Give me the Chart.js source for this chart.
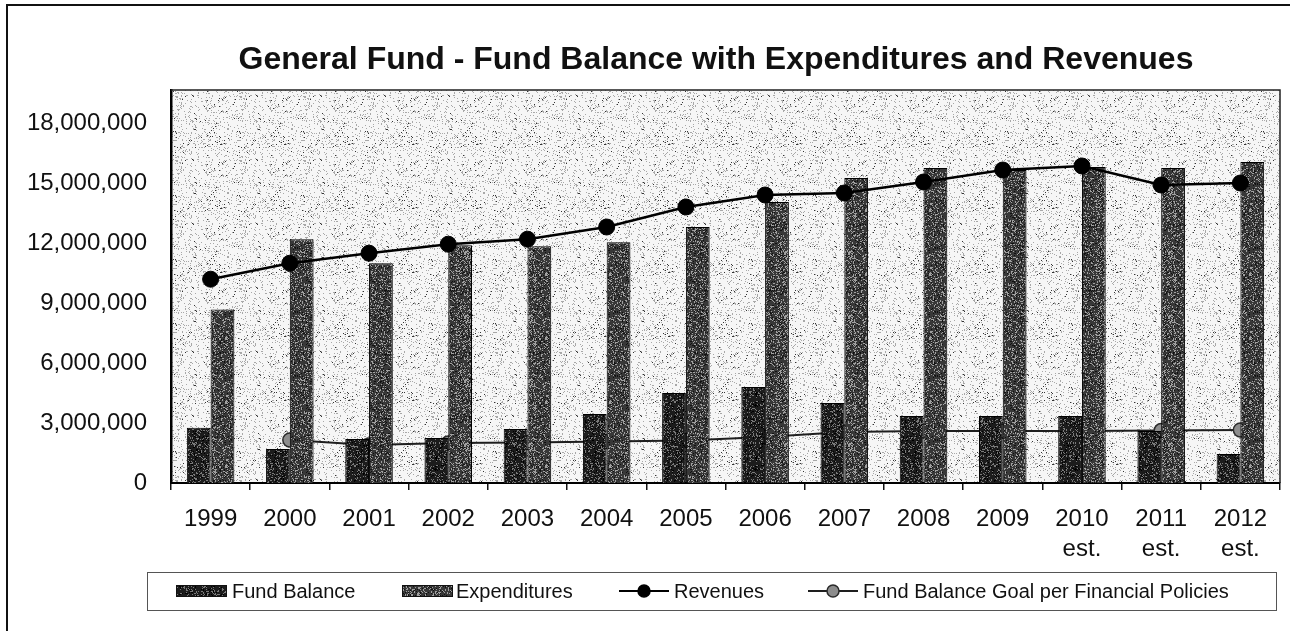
<!DOCTYPE html>
<html>
<head>
<meta charset="utf-8">
<title>General Fund - Fund Balance with Expenditures and Revenues</title>
<script src="https://cdn.jsdelivr.net/npm/chart.js@4.4.1/dist/chart.umd.min.js"></script>
<style>
  html, body { margin: 0; padding: 0; background: #fff; }
  canvas { display: block; }
</style>
</head>
<body>
<canvas id="fundChart" width="1290" height="631"></canvas>
<script>
const chartTitle = 'General Fund - Fund Balance with Expenditures and Revenues';

const categories = ['1999', '2000', '2001', '2002', '2003', '2004', '2005',
  '2006', '2007', '2008', '2009', '2010', '2011', '2012'];
const estimateYears = ['2010', '2011', '2012'];

const fundBalance = [2760000, 1700000, 2200000, 2250000, 2700000, 3450000, 4500000,
  4800000, 4000000, 3350000, 3350000, 3350000, 2600000, 1450000];
const expenditures = [8680000, 12190000, 10990000, 11890000, 11840000, 12040000, 12800000,
  14050000, 15250000, 15750000, 15650000, 15800000, 15750000, 16050000];
const revenues = [10190000, 10990000, 11490000, 11940000, 12190000, 12800000, 13800000,
  14400000, 14500000, 15050000, 15650000, 15850000, 14900000, 15000000];
const fundBalanceGoal = [null, 2150000, 1900000, 2000000, 2030000, 2080000, 2120000,
  2300000, 2550000, 2600000, 2600000, 2600000, 2620000, 2650000];

const yTickValues = [0, 3000000, 6000000, 9000000, 12000000, 15000000, 18000000];
const yAxisMax = 19650000;

const FONT = '"Liberation Sans", Arial, Helvetica, sans-serif';

// cheap deterministic hash so the speckle texture is the same on every load
function hash(x, y, seed) {
  let h = Math.imul(x, 374761393) + Math.imul(y, 668265263) + Math.imul(seed, 982451653);
  h = Math.imul(h ^ (h >>> 13), 1274126177);
  h = h ^ (h >>> 16);
  return (h >>> 0) / 4294967296;
}

function speckledPattern(base, specks, seed) {
  const size = 64;
  const c = document.createElement('canvas');
  c.width = size;
  c.height = size;
  const g = c.getContext('2d');
  g.fillStyle = base;
  g.fillRect(0, 0, size, size);
  specks.forEach((s, k) => {
    g.fillStyle = s.color;
    for (let y = 0; y < size; y++) {
      for (let x = 0; x < size; x++) {
        if (hash(x, y, seed + k * 17) < s.density) g.fillRect(x, y, 1, 1);
      }
    }
  });
  return g.createPattern(c, 'repeat');
}

const plotFill = speckledPattern('#f6f6f6', [
  { color: '#a8a8a8', density: 0.12 },
  { color: '#333333', density: 0.015 },
], 3);
const fundFill = speckledPattern('#1c1c1c', [
  { color: '#7a7a7a', density: 0.2 },
  { color: '#000000', density: 0.10 },
], 11);
const expendFill = speckledPattern('#383838', [
  { color: '#a0a0a0', density: 0.24 },
  { color: '#111111', density: 0.12 },
], 29);

const xLabels = categories.map(y => estimateYears.includes(y) ? [y, 'est.'] : y);

// plot background, outer frame, title, plot border and legend
const decorations = {
  id: 'decorations',
  beforeDraw(chart) {
    const { ctx, chartArea: a } = chart;
    ctx.save();
    ctx.fillStyle = plotFill;
    ctx.fillRect(a.left, a.top, a.right - a.left, a.bottom - a.top);

    ctx.strokeStyle = '#111';
    ctx.lineWidth = 2;
    ctx.beginPath();
    ctx.moveTo(7, 631);
    ctx.lineTo(7, 5);
    ctx.lineTo(1290, 5);
    ctx.stroke();
    ctx.restore();
  },
  afterDraw(chart) {
    const { ctx, chartArea: a } = chart;
    ctx.save();

    ctx.strokeStyle = '#222';
    ctx.lineWidth = 1.5;
    ctx.beginPath();
    ctx.moveTo(a.left, a.top);
    ctx.lineTo(a.right, a.top);
    ctx.lineTo(a.right, a.bottom);
    ctx.stroke();

    ctx.fillStyle = '#111';
    ctx.font = 'bold 32px ' + FONT;
    ctx.textAlign = 'center';
    ctx.textBaseline = 'middle';
    ctx.fillText(chartTitle, 716, 60);

    // legend box
    ctx.strokeStyle = '#555';
    ctx.lineWidth = 1;
    ctx.strokeRect(147.5, 572.5, 1129, 38);

    const ds = chart.data.datasets;
    const cy = 591;
    ctx.font = '20px ' + FONT;
    ctx.textAlign = 'left';

    const swatch = (x, d) => {
      ctx.fillStyle = d.backgroundColor;
      ctx.fillRect(x, cy - 6, 51, 12);
      ctx.strokeStyle = '#111';
      ctx.lineWidth = 1;
      ctx.strokeRect(x + 0.5, cy - 5.5, 50, 11);
    };
    const lineMark = (x, d) => {
      ctx.strokeStyle = d.borderColor;
      ctx.lineWidth = 2;
      ctx.beginPath();
      ctx.moveTo(x, cy);
      ctx.lineTo(x + 50, cy);
      ctx.stroke();
      ctx.beginPath();
      ctx.arc(x + 25, cy, 6, 0, Math.PI * 2);
      ctx.fillStyle = d.pointBackgroundColor;
      ctx.fill();
      ctx.strokeStyle = d.pointBorderColor;
      ctx.lineWidth = 1.5;
      ctx.stroke();
    };
    const label = (text, x) => {
      ctx.fillStyle = '#111';
      ctx.fillText(text, x, cy + 1);
    };

    swatch(176, ds[1]);
    label(ds[1].label, 232);
    swatch(402, ds[2]);
    label(ds[2].label, 456);
    lineMark(619, ds[0]);
    label(ds[0].label, 674);
    lineMark(808, ds[3]);
    label(ds[3].label, 863);

    ctx.restore();
  }
};

const ctx = document.getElementById('fundChart').getContext('2d');
new Chart(ctx, {
  type: 'bar',
  data: {
    labels: xLabels,
    datasets: [
      {
        type: 'line',
        label: 'Revenues',
        data: revenues,
        order: 0,
        borderColor: '#000',
        borderWidth: 2.5,
        pointRadius: 8,
        pointBackgroundColor: '#000',
        pointBorderColor: '#000',
        pointBorderWidth: 1,
        tension: 0,
      },
      {
        label: 'Fund Balance',
        data: fundBalance,
        order: 1,
        backgroundColor: fundFill,
        borderColor: '#000',
        borderWidth: 1,
        categoryPercentage: 0.6,
        barPercentage: 1.0,
      },
      {
        label: 'Expenditures',
        data: expenditures,
        order: 1,
        backgroundColor: expendFill,
        borderColor: '#000',
        borderWidth: 1,
        categoryPercentage: 0.6,
        barPercentage: 1.0,
      },
      {
        type: 'line',
        label: 'Fund Balance Goal per Financial Policies',
        data: fundBalanceGoal,
        order: 2,
        borderColor: '#1e1e1e',
        borderWidth: 2,
        pointRadius: 7,
        pointBackgroundColor: '#8c8c8c',
        pointBorderColor: '#2a2a2a',
        pointBorderWidth: 1.5,
        tension: 0,
        spanGaps: false,
      },
    ],
  },
  options: {
    responsive: false,
    animation: false,
    devicePixelRatio: 1,
    layout: { padding: { top: 90, left: 0, right: 10, bottom: 0 } },
    plugins: {
      legend: { display: false },
      title: { display: false },
      tooltip: { enabled: false },
    },
    scales: {
      x: {
        offset: true,
        grid: {
          offset: true,
          drawOnChartArea: false,
          drawTicks: true,
          tickLength: 7,
          color: '#111',
          lineWidth: 1.5,
        },
        border: { display: true, color: '#000', width: 2 },
        ticks: {
          color: '#111',
          font: { family: FONT, size: 24, lineHeight: 1.23 },
          padding: 15,
          maxRotation: 0,
          autoSkip: false,
        },
        afterFit(scale) { scale.height = 148; },
      },
      y: {
        min: 0,
        max: yAxisMax,
        grid: { display: false, drawTicks: false, tickLength: 0 },
        border: { display: true, color: '#000', width: 2.5 },
        ticks: {
          color: '#111',
          font: { family: FONT, size: 24 },
          padding: 24,
          callback: v => v.toLocaleString('en-US'),
        },
        afterBuildTicks(scale) {
          scale.ticks = yTickValues.map(v => ({ value: v }));
        },
        afterFit(scale) { scale.width = 171; },
      },
    },
  },
  plugins: [decorations],
});
</script>
</body>
</html>
